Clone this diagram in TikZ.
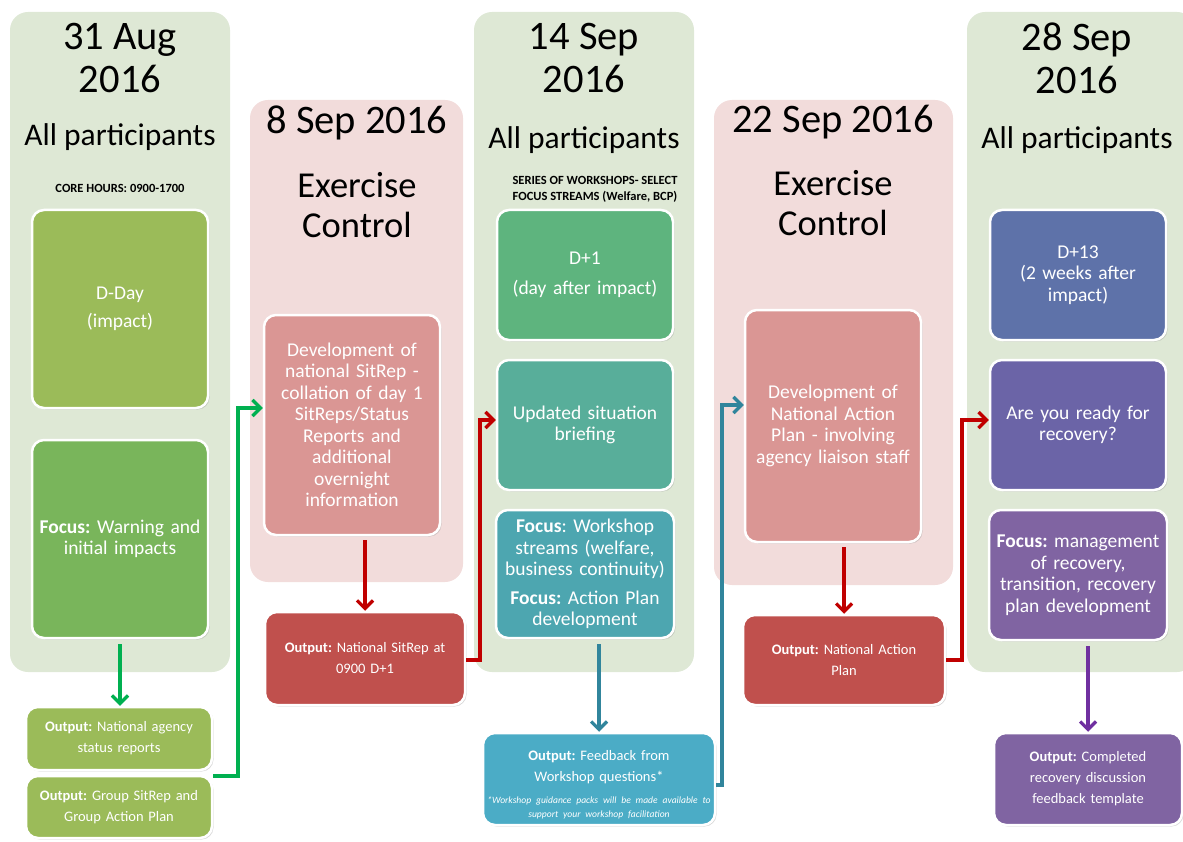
\documentclass[tikz,border=0pt]{standalone}
\usepackage{fontspec}
\setmainfont{Carlito}
\usetikzlibrary{arrows.meta,shadows}
\definecolor{bggreen}{HTML}{DEE8D5}
\definecolor{bgpink}{HTML}{F2DCDB}
\definecolor{olive}{HTML}{9BBB59}
\definecolor{greenF}{HTML}{79B55B}
\definecolor{rose}{HTML}{DA9694}
\definecolor{redout}{HTML}{C0504D}
\definecolor{greenD}{HTML}{5EB47E}
\definecolor{tealU}{HTML}{58AE9A}
\definecolor{tealF}{HTML}{4DA6B0}
\definecolor{blueout}{HTML}{4BACC6}
\definecolor{blueD}{HTML}{5E72A9}
\definecolor{violR}{HTML}{6B64A7}
\definecolor{purpF}{HTML}{8064A2}
\definecolor{arrgreen}{HTML}{00B050}
\definecolor{arrred}{HTML}{C00000}
\definecolor{arrteal}{HTML}{31859C}
\definecolor{arrpurp}{HTML}{7030A0}
\frenchspacing
\begin{document}
\begin{tikzpicture}[x=1pt,y=-1pt,
  colbg/.style={fill=#1, draw=none, rounded corners=18pt, inner sep=0pt},
  title/.style={align=center, inner sep=0pt, font=\fontsize{40.5}{43}\selectfont},
  ctrl/.style={align=center, inner sep=0pt, font=\fontsize{36.5}{40}\selectfont},
  allp/.style={inner sep=0pt, font=\fontsize{31.5}{34}\selectfont},
  small/.style={align=center, inner sep=0pt, font=\fontsize{12.5}{16}\selectfont\bfseries},
  box/.style={fill=#1, draw=white, line width=2.5pt, rounded corners=12pt, text=white,
    align=center, inner sep=3pt, font=\fontsize{19.5}{21.5}\selectfont,
    drop shadow={shadow xshift=1.5pt, shadow yshift=-1.5pt, opacity=0.3}},
  outbox/.style={box=#1, font=\fontsize{14.5}{21}\selectfont},
  conn/.style={line width=3.2pt, draw=#1, -{Straight Barb[length=8pt,width=16pt,line width=3.2pt]}}
]
\useasboundingbox (0,0) rectangle (1183,842);
% column backgrounds
\node[colbg=bggreen, minimum width=220pt, minimum height=660pt] (c1) at (120,342) {};
\node[colbg=bgpink, minimum width=213pt, minimum height=482pt] (c2) at (356.5,341) {};
\node[colbg=bggreen, minimum width=220pt, minimum height=660pt] (c3) at (584,342) {};
\node[colbg=bgpink, minimum width=239pt, minimum height=485pt] (c4) at (833.5,342.5) {};
\node[colbg=bggreen, minimum width=228pt, minimum height=660pt] (c5) at (1081,342) {};

% column 1
\node[title] (t1) at (120,58) {31 Aug\\2016};
\node[allp] (a1) at (120,137) {All participants};
\node[small] (s1) at (120,188) {CORE HOURS: 0900-1700};
\node[box=olive, minimum width=176pt, minimum height=198pt, text width=168pt] (dday) at (120,309) {D-Day\\[6pt](impact)};
\node[box=greenF, minimum width=176pt, minimum height=198pt, text width=168pt] (f1) at (120,539) {\textbf{Focus:} Warning and\\initial impacts};
\node[outbox=olive, minimum width=186pt, minimum height=63pt, text width=180pt] (o1) at (119,738.5) {\textbf{Output:} National agency\\status reports};
\node[outbox=olive, minimum width=186pt, minimum height=62pt, text width=180pt] (o2) at (119,807) {\textbf{Output:} Group SitRep and\\Group Action Plan};

% column 2
\node[title] (t2) at (357,123) {8 Sep 2016};
\node[ctrl] (e2) at (357,205) {Exercise\\Control};
\node[box=rose, minimum width=176pt, minimum height=220pt, text width=168pt] (dev1) at (352,425) {Development of\\national SitRep -\\collation of day 1\\SitReps/Status\\Reports and\\additional\\overnight\\information};
\node[outbox=redout, minimum width=200pt, minimum height=93pt, text width=192pt] (or1) at (365,658.5) {\textbf{Output:} National SitRep at\\0900 D+1};

% column 3
\node[title] (t3) at (584,58) {14 Sep\\2016};
\node[allp] (a3) at (584,140) {All participants};
\node[small] (s3) at (595,189) {SERIES OF WORKSHOPS- SELECT\\FOCUS STREAMS (Welfare, BCP)};
\node[box=greenD, minimum width=176pt, minimum height=130pt, text width=168pt] (d1) at (585,275) {D+1\\[9pt](day after impact)};
\node[box=tealU, minimum width=176pt, minimum height=130pt, text width=168pt] (upd) at (585,425) {Updated situation\\briefing};
\node[box=tealF, minimum width=176pt, minimum height=128pt, text width=172pt] (f3) at (585,574) {\textbf{Focus}: Workshop\\streams (welfare,\\business continuity)\\[7pt]\textbf{Focus:} Action Plan\\development};
\node[outbox=blueout, minimum width=232pt, minimum height=92pt] (o3) at (599,779) {};
\node[align=center, text=white, text width=228pt, inner sep=0pt, font=\fontsize{14.5}{21}\selectfont] (o3t) at (599,785) {\textbf{Output:} Feedback from\\Workshop questions*\par\vspace{8pt}{\fontsize{9.6}{14}\selectfont\itshape *Workshop guidance packs will be made available to\\support your workshop facilitation\par}};

% column 4
\node[title] (t4) at (833,122) {22 Sep 2016};
\node[ctrl] (e4) at (833,203) {Exercise\\Control};
\node[box=rose, minimum width=176pt, minimum height=232pt, text width=170pt] (dev2) at (833,426) {Development of\\National Action\\Plan - involving\\agency liaison staff};
\node[outbox=redout, minimum width=202pt, minimum height=90pt, text width=194pt] (or2) at (844,660) {\textbf{Output:} National Action\\Plan};

% column 5
\node[title] (t5) at (1077,58) {28 Sep\\2016};
\node[allp] (a5) at (1077,140) {All participants};
\node[box=blueD, minimum width=176pt, minimum height=130pt, text width=168pt] (d13) at (1078,275) {D+13\\(2 weeks after\\impact)};
\node[box=violR, minimum width=176pt, minimum height=130pt, text width=168pt] (rdy) at (1078,425) {Are you ready for\\recovery?};
\node[box=purpF, minimum width=176pt, minimum height=130pt, text width=172pt] (f5) at (1078,575) {\textbf{Focus:} management\\of recovery,\\transition, recovery\\plan development};
\node[outbox=purpF, minimum width=188pt, minimum height=92pt, text width=180pt] (o5) at (1088,779) {\textbf{Output:} Completed\\recovery discussion\\feedback template};

% down arrows
\draw[conn=arrgreen, shorten <=5pt] (f1.south) -- (f1.south |- o1.north);
\draw[conn=arrred, shorten <=4pt] (dev1.south -| or1.north) -- (or1.north);
\draw[conn=arrteal, shorten <=5pt] (f3.south -| o3.north) -- (o3.north);
\draw[conn=arrred, shorten <=4pt] (dev2.south -| or2.north) -- (or2.north);
\draw[conn=arrpurp, shorten <=5pt] (f5.south -| o5.north) -- (o5.north);

% elbow connectors
\draw[conn=arrgreen] (o2.east |- 0,776) -| (238,408) -- (dev1.west |- 0,408);
\draw[conn=arrred] (or1.east |- 0,660) -| (480,420) -- (upd.west |- 0,420);
\draw[conn=arrteal] (o3.east |- 0,785) -| (722,405) -- (dev2.west |- 0,405);
\draw[conn=arrred] (or2.east |- 0,660) -| (962,420) -- (rdy.west |- 0,420);
\end{tikzpicture}
\end{document}
